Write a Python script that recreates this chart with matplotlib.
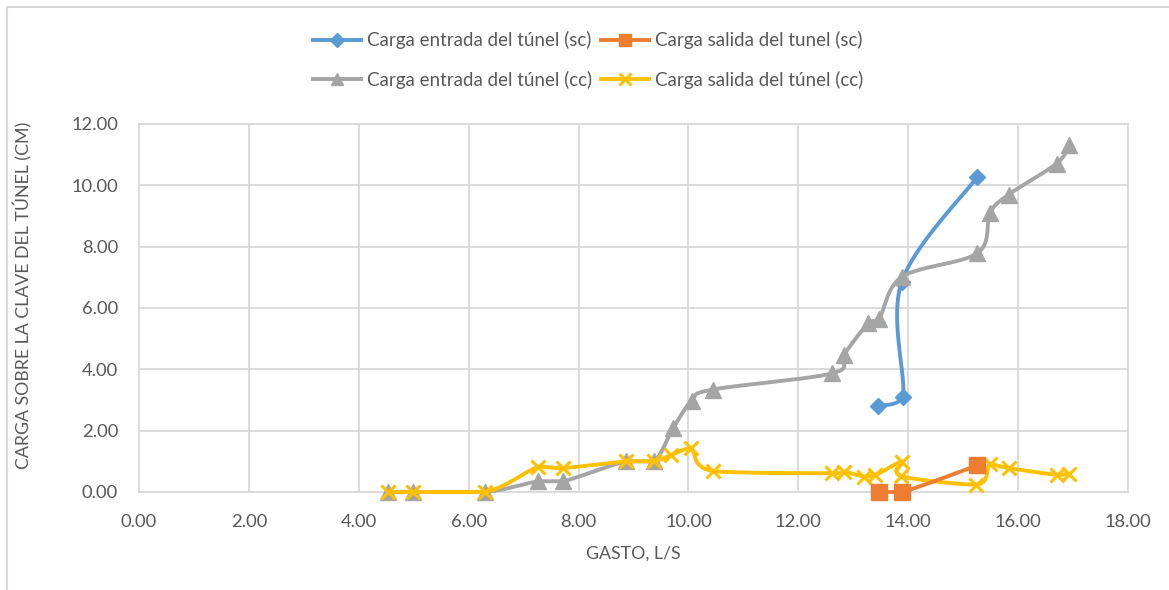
import numpy as np
import matplotlib
matplotlib.use("Agg")
import matplotlib.pyplot as plt
from matplotlib.lines import Line2D
from matplotlib.patches import Rectangle

plt.rcParams["font.family"] = ["Lato", "DejaVu Sans"]

# caudal (L/s) y carga sobre la clave (cm)
x_entrada_sc = [13.45, 13.90, 13.88, 15.26]
y_entrada_sc = [2.80, 3.10, 6.85, 10.28]

x_salida_sc = [13.47, 13.89, 15.26]
y_salida_sc = [0.00, 0.00, 0.87]

x_entrada_cc = [4.54, 4.98, 6.30, 7.27, 7.72, 8.86, 9.37, 9.72, 10.06, 10.44,
                12.62, 12.83, 13.27, 13.47, 13.89, 15.26, 15.49, 15.83, 16.70, 16.93]
y_entrada_cc = [0.00, 0.00, 0.00, 0.35, 0.35, 1.00, 1.00, 2.08, 2.98, 3.34,
                3.87, 4.48, 5.50, 5.65, 7.02, 7.79, 9.10, 9.70, 10.71, 11.31]

x_salida_cc = [4.54, 4.98, 6.30, 7.27, 7.72, 8.86, 9.37, 9.69, 10.04, 10.45,
               12.62, 12.83, 13.20, 13.40, 13.89, 13.87, 15.24, 15.49, 15.83, 16.70, 16.93]
y_salida_cc = [0.00, 0.00, 0.00, 0.82, 0.78, 1.00, 1.00, 1.21, 1.42, 0.68,
               0.61, 0.66, 0.50, 0.55, 0.99, 0.52, 0.24, 0.90, 0.78, 0.56, 0.60]

labels = ["Carga entrada del túnel (sc)", "Carga salida del tunel (sc)",
          "Carga entrada del túnel (cc)", "Carga salida del túnel (cc)"]
colors = ["#5B9BD5", "#ED7D31", "#A5A5A5", "#FFC000"]

TEXT = "#595959"
GRID = "#D9D9D9"


def smooth(xs, ys, n=24):
    # cubic Bezier through the points (Catmull-Rom tangents), like a smoothed line;
    # control points keep y inside each segment so flat runs stay flat
    p = np.column_stack([xs, ys]).astype(float)
    ext = np.vstack([p[0], p, p[-1]])
    out = [p[:1]]
    t = np.linspace(0, 1, n)[1:, None]
    for i in range(len(p) - 1):
        p0, p1 = ext[i + 1], ext[i + 2]
        c1 = p0 + (ext[i + 2] - ext[i]) / 6.0
        c2 = p1 - (ext[i + 3] - ext[i + 1]) / 6.0
        lo, hi = min(p0[1], p1[1]), max(p0[1], p1[1])
        c1[1] = np.clip(c1[1], lo, hi)
        c2[1] = np.clip(c2[1], lo, hi)
        seg = ((1 - t) ** 3) * p0 + 3 * ((1 - t) ** 2) * t * c1 + 3 * (1 - t) * t ** 2 * c2 + t ** 3 * p1
        out.append(seg)
    c = np.vstack(out)
    return c[:, 0], c[:, 1]


fig = plt.figure(figsize=(11.69, 5.90), dpi=100)
ax = fig.add_axes([139 / 1169, 1 - 492 / 590, (1128 - 139) / 1169, (492 - 124) / 590])

series = [
    (x_entrada_sc, y_entrada_sc, dict(marker="D", markersize=8.5), 3),
    (x_salida_sc, y_salida_sc, dict(marker="s", markersize=11), 6),
    (x_entrada_cc, y_entrada_cc, dict(marker="^", markersize=11), 4),
    (x_salida_cc, y_salida_cc, dict(marker="x", markersize=10, markeredgewidth=2.2), 5),
]

handles = []
for (xs, ys, mk, z), color, label in zip(series, colors, labels):
    sx, sy = smooth(xs, ys)
    ax.plot(sx, sy, color=color, lw=2.8, solid_capstyle="round", zorder=z, clip_on=False)
    ax.plot(xs, ys, linestyle="none", color=color, zorder=z + 0.5, clip_on=False, **mk)
    hmk = dict(mk)
    hmk["markersize"] = mk["markersize"] * 0.85
    handles.append(Line2D([0], [0], color=color, lw=2.8, **hmk))

ax.set_xlim(0, 18)
ax.set_ylim(0, 12)
ax.set_xticks(np.arange(0, 18.1, 2))
ax.set_yticks(np.arange(0, 12.1, 2))
ax.xaxis.set_major_formatter(matplotlib.ticker.FormatStrFormatter("%.2f"))
ax.yaxis.set_major_formatter(matplotlib.ticker.FormatStrFormatter("%.2f"))
ax.tick_params(length=0, labelsize=13.2, colors=TEXT)
ax.tick_params(axis="x", pad=16)
ax.tick_params(axis="y", pad=15)
ax.grid(color=GRID, lw=1.3, zorder=0)
ax.set_axisbelow(True)
for s in ax.spines.values():
    s.set_color(GRID)
    s.set_linewidth(1.3)

ax.set_xlabel("GASTO, L/S", fontsize=12.8, color=TEXT, labelpad=11)
ax.set_ylabel("CARGA SOBRE LA CLAVE DEL TÚNEL (CM)", fontsize=12.8, color=TEXT, labelpad=12)
ax.yaxis.set_label_coords(23 / 1169, 0.5, transform=fig.transFigure)
ax.yaxis.label.set_verticalalignment("center")

# leyenda en dos filas sobre el gráfico
order = [0, 2, 1, 3]
leg = fig.legend([handles[i] for i in order], [labels[i] for i in order],
                 loc="center", bbox_to_anchor=(588 / 1169, 1 - 60 / 590), ncol=2,
                 frameon=False, fontsize=13.5, handlelength=2.6, handletextpad=0.3,
                 columnspacing=0.45, labelspacing=1.15)
for t in leg.get_texts():
    t.set_color(TEXT)

# marco del área del gráfico
fig.add_artist(Rectangle((7 / 1169, -0.1), 1.2, 1 - 7 / 590 + 0.1,
                         transform=fig.transFigure, fill=False,
                         edgecolor=GRID, lw=1.5))

fig.savefig("out.png", dpi=100)
